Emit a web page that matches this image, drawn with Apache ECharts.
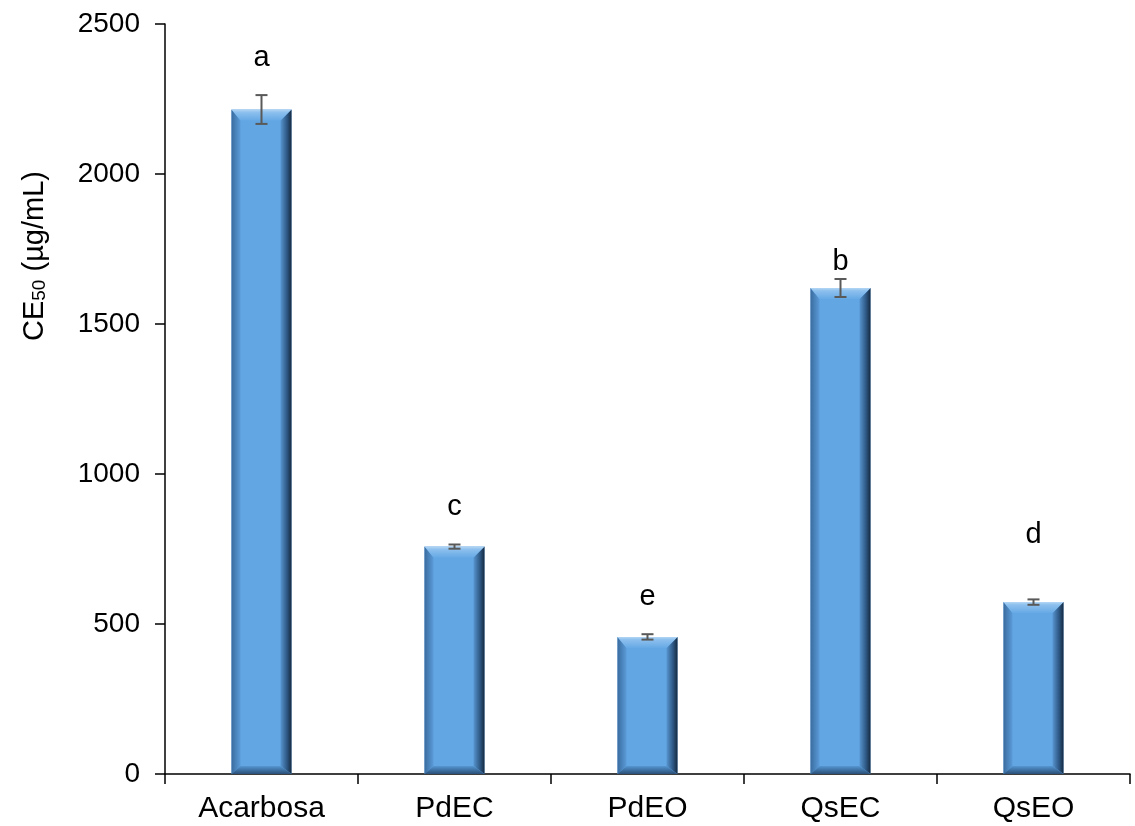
<!DOCTYPE html>
<html><head><meta charset="utf-8">
<script src="https://cdn.jsdelivr.net/npm/echarts@6/dist/echarts.min.js"></script>
<style>html,body{margin:0;padding:0;background:#fff}#c{width:1135px;height:826px}</style>
</head><body><div id="c"></div>
<script>
const categories = ['Acarbosa', 'PdEC', 'PdEO', 'QsEC', 'QsEO'];
const values = [2215, 758, 457, 1620, 573];
const errors = [48, 7, 9, 30, 9];
const letters = ['a', 'c', 'e', 'b', 'd'];
const letterLevels = [2387, 890, 590, 1707, 797];
const yTicks = [0, 500, 1000, 1500, 2000, 2500];

const chart = echarts.init(document.getElementById('c'));
const font = 'Liberation Sans, Arial, sans-serif';
const G = echarts.graphic.LinearGradient;

function bevelBar(params, api) {
  const i = api.value(0);
  const top = api.coord([i, api.value(1)]);
  const base = api.coord([i, 0]);
  const w = 60, b = 11;
  const x0 = top[0] - w / 2, x1 = top[0] + w / 2;
  const y0 = top[1], y1 = base[1];
  const h = y1 - y0;
  const bt = Math.min(b, h / 2), bb = Math.min(8, h / 2), bl = 9, br = 11;
  return {type: 'group', children: [
    {type: 'rect', shape: {x: x0, y: y0, width: w, height: h}, style: {fill: '#62a6e3'}},
    {type: 'polygon', shape: {points: [[x0, y0], [x0 + bl, y0 + bt], [x0 + bl, y1 - bb], [x0, y1]]},
      style: {fill: new G(0, 0, 1, 0, [{offset: 0, color: '#3a6c9f'}, {offset: 1, color: '#5b9bd8'}])}},
    {type: 'polygon', shape: {points: [[x1, y0], [x1 - br, y0 + bt], [x1 - br, y1 - bb], [x1, y1]]},
      style: {fill: new G(0, 0, 1, 0, [{offset: 0, color: '#5895d0'}, {offset: 0.6, color: '#2d5783'}, {offset: 1, color: '#16293f'}])}},
    {type: 'polygon', shape: {points: [[x0, y0], [x1, y0], [x1 - br, y0 + bt], [x0 + bl, y0 + bt]]},
      style: {fill: new G(0, 0, 0, 1, [{offset: 0, color: '#b4d6f4'}, {offset: 0.25, color: '#8dc0ee'}, {offset: 1, color: '#66a9e5'}])}},
    {type: 'polygon', shape: {points: [[x0 + bl, y1 - bb], [x1 - br, y1 - bb], [x1, y1], [x0, y1]]},
      style: {fill: new G(0, 0, 0, 1, [{offset: 0, color: '#5596d2'}, {offset: 1, color: '#2a4f78'}])}}
  ]};
}

chart.setOption({
  animation: false,
  grid: {left: 165, right: 5, top: 24, bottom: 52, containLabel: false},
  graphic: [{
    type: 'text', x: 35, y: 256, rotation: Math.PI / 2,
    style: {
      text: '{m|CE}{s|50}{m| (µg/mL)}', align: 'center', verticalAlign: 'middle',
      rich: {
        m: {fontSize: 29, fontFamily: font, fill: '#000'},
        s: {fontSize: 19, fontFamily: font, fill: '#000', verticalAlign: 'bottom', padding: [8, 0, 0, 0]}
      }
    }
  }],
  xAxis: {
    type: 'category', data: categories,
    axisLine: {lineStyle: {color: '#000', width: 1.5}},
    axisTick: {show: true, length: 10, inside: false, alignWithLabel: false, lineStyle: {color: '#000', width: 1.5}},
    axisLabel: {color: '#000', fontSize: 30, fontFamily: font, margin: 20}
  },
  yAxis: {
    type: 'value', min: yTicks[0], max: yTicks[yTicks.length - 1], interval: 500,
    axisLine: {show: true, lineStyle: {color: '#000', width: 1.5}},
    axisTick: {show: true, length: 10, lineStyle: {color: '#000', width: 1.5}},
    splitLine: {show: false},
    axisLabel: {color: '#000', fontSize: 28, fontFamily: font, margin: 25, formatter: v => String(v)}
  },
  series: [
    {
      type: 'custom', renderItem: bevelBar,
      data: values.map((v, i) => [i, v]),
      encode: {x: 0, y: 1}, z: 2
    },
    {
      type: 'custom',
      data: values.map((v, i) => [i, v - errors[i], v + errors[i]]),
      encode: {x: 0, y: [1, 2]},
      renderItem: function (params, api) {
        const lo = api.coord([api.value(0), api.value(1)]);
        const hi = api.coord([api.value(0), api.value(2)]);
        const x = lo[0], w = 6;
        const st = {stroke: '#595959', lineWidth: 2};
        return {type: 'group', children: [
          {type: 'line', shape: {x1: x, y1: lo[1], x2: x, y2: hi[1]}, style: st},
          {type: 'line', shape: {x1: x - w, y1: lo[1], x2: x + w, y2: lo[1]}, style: st},
          {type: 'line', shape: {x1: x - w, y1: hi[1], x2: x + w, y2: hi[1]}, style: st}
        ]};
      },
      z: 5
    },
    {
      type: 'scatter', symbolSize: 1, itemStyle: {color: 'rgba(0,0,0,0)', opacity: 1},
      data: letterLevels.map((v, i) => [i, v, letters[i]]),
      label: {show: true, position: 'inside', formatter: p => p.data[2],
        color: '#000', textBorderWidth: 0, fontSize: 29, fontFamily: font}
    }
  ]
});
</script></body></html>
